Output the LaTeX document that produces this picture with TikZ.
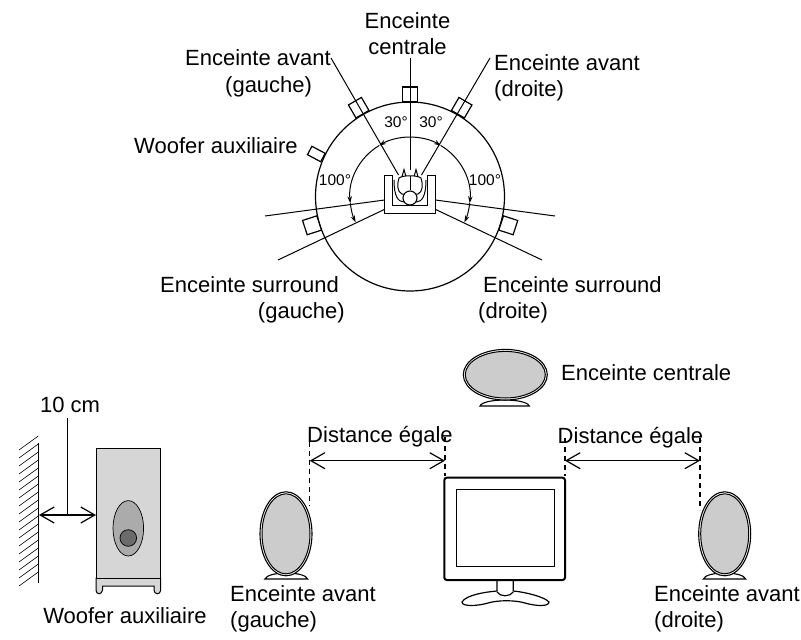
\documentclass[tikz,border=0pt]{standalone}
\usepackage{fontspec}
\setmainfont{Liberation Sans}
\usetikzlibrary{arrows.meta,shapes.geometric}
\tikzset{
    lbl/.style={inner sep=0pt, font=\fontsize{22}{26.5}\selectfont},
    deg/.style={inner sep=0pt, font=\fontsize{15.5}{18}\selectfont},
    box/.style={draw, line width=1.2pt, fill=white, minimum width=15pt, minimum height=15pt, inner sep=0pt},
    ray/.style={line width=1pt},
    sweep/.style={line width=1pt, -{Stealth[length=7pt,width=4.5pt]}},
    span/.style={line width=1.2pt, {Straight Barb[length=14pt,width=16pt]}-{Straight Barb[length=14pt,width=16pt]}},
    guide/.style={line width=1.3pt, dash pattern=on 5pt off 4pt},
    shell/.style={draw, line width=1.1pt, fill=white},
    cone/.style={draw, line width=1pt, fill=black!20}
}
\newcommand{\spkfoot}[3]{% x left, x right, y
    \draw[line width=1.1pt, fill=white] (#1,#3) .. controls (#1+3,#3-8) and (#2-3,#3-8) .. (#2,#3) -- cycle;
}
\begin{document}
\begin{tikzpicture}[x=1pt, y=-1pt]
    \useasboundingbox (0,0) rectangle (801,640);

    % Room circle
    \draw[line width=1.2pt] (410,196.5) circle (94.5);
    \coordinate (hub) at (410,197);

    % Rays
    \coordinate (flend) at (331,58);
    \coordinate (frend) at (490,58);
    \coordinate (cend) at (410,58);
    \coordinate (lup) at (265,216);
    \coordinate (llo) at (278,260);
    \coordinate (rup) at (555,216);
    \coordinate (rlo) at (542,260);
    \coordinate (flbase) at (398.5,175);
    \coordinate (frbase) at (421.5,175);
    \coordinate (cbase) at (410,170);
    \coordinate (seatlu) at (384.7,200);
    \coordinate (seatll) at (384.7,209.3);
    \coordinate (seatru) at (435.3,200);
    \coordinate (seatrl) at (435.3,209.3);

    % Speakers around the circle
    \node[box] (c) at (410,94.5) {};
    \node[box, rotate=30] (fl) at (358.7,107.7) {};
    \node[box, rotate=-30] (fr) at (461.7,107.7) {};
    \node[box, rotate=-28, minimum height=9.5pt] (sub) at (316.3,154) {};
    \node[box, rotate=18] (sl) at (312,225.3) {};
    \node[box, rotate=-18] (sr) at (508.3,225.3) {};

    \draw[ray] (flend) -- (flbase);
    \draw[ray] (frend) -- (frbase);
    \draw[ray] (cend) -- (cbase);
    \draw[ray] (lup) -- (seatlu);
    \draw[ray] (llo) -- (seatll);
    \draw[ray] (rup) -- (seatru);
    \draw[ray] (rlo) -- (seatrl);

    % Angle arcs
    \draw[sweep] (hub) ++(-90:60) arc[start angle=-90, end angle=-121, radius=60];
    \draw[sweep] (hub) ++(-90:60) arc[start angle=-90, end angle=-59, radius=60];
    \draw[sweep] (hub) ++(-121:60) arc[start angle=-121, end angle=-186, radius=60];
    \draw[sweep] (hub) ++(-59:60) arc[start angle=-59, end angle=6, radius=60];
    \draw[sweep] (hub) ++(-186:60) arc[start angle=-186, end angle=-205, radius=60];
    \draw[sweep] (hub) ++(6:60) arc[start angle=6, end angle=25, radius=60];

    % Seat
    \draw[line width=1.4pt, fill=white] (384.7,175.3) -- (384.7,213.7) -- (435.3,213.7) -- (435.3,175.3) -- (427.3,175.3) -- (427.3,205.3) -- (392.7,205.3) -- (392.7,175.3) -- cycle;
    \draw[line width=1pt] (394,180) .. controls (394,196) and (398,202) .. (404,202);
    \draw[line width=1pt] (426,180) .. controls (426,196) and (422,202) .. (416,202);
    \draw[line width=1pt, fill=white] (400,184) -- (404,169.5) -- (408,184) -- cycle;
    \draw[line width=1pt, fill=white] (412,184) -- (416,169.5) -- (420,184) -- cycle;
    \draw[line width=1pt, fill=white] (399,178) .. controls (403,175) and (417,175) .. (421,178) .. controls (423,184) and (423,192) .. (418,194) -- (402,194) .. controls (397,192) and (397,184) .. (399,178) -- cycle;
    \draw[line width=1pt] (410,176) -- (410,190);
    \node[circle, draw, line width=1.1pt, fill=white, minimum size=14pt, inner sep=0pt] (head) at (410,198) {};

    % Labels of the upper part
    \node[lbl, align=center] (lc) at (407.5,33.5) {Enceinte\\centrale};
    \node[lbl, align=left, anchor=west] (lfl) at (185,73.5) {Enceinte avant\\\hspace*{40pt}(gauche)};
    \node[lbl, align=left, anchor=west] (lfr) at (494,78) {Enceinte avant\\(droite)};
    \node[lbl, anchor=west] (lsub) at (134,146) {Woofer auxiliaire};
    \node[lbl, align=right, anchor=east] (lsl) at (345,300) {Enceinte surround\hspace*{6pt}\\(gauche)};
    \node[lbl, align=left, anchor=west] (lsr) at (478,300) {\hspace*{5pt}Enceinte surround\\(droite)};
    \node[deg] (a30l) at (396,122) {30°};
    \node[deg] (a30r) at (431,122) {30°};
    \node[deg] (a100l) at (335,180) {100°};
    \node[deg] (a100r) at (485,180) {100°};

    % Wall
    \draw[line width=1.2pt] (38.3,442.7) -- (38.3,582.7);
    \foreach \y in {450,458,...,586}
        \draw[line width=0.6pt] (19,\y) -- (38.3,\y-14);
    \coordinate (wall) at (39,515);
    \coordinate (boxface) at (96,515);

    % Subwoofer
    \draw[line width=1pt, fill=black!16] (96,578) -- (96,590) .. controls (96,595) and (102,595) .. (102.5,590) -- (102.5,586) -- (154,586) -- (154,590) .. controls (154,595) and (160.7,595) .. (160.7,590) -- (160.7,578) -- cycle;
    \node[draw, line width=1pt, fill=black!16, minimum width=64.7pt, minimum height=130pt, inner sep=0pt] (subbox) at (128.35,513) {};
    \node[ellipse, draw, line width=0.7pt, fill=black!33, minimum width=30.6pt, minimum height=55.4pt, inner sep=0pt] (subcone) at (128.3,528.3) {};
    \node[circle, draw, line width=0.7pt, fill=black!58, minimum size=16.6pt, inner sep=0pt] (subdrv) at (128.3,538) {};

    \draw[span] (wall) -- (boxface);
    \coordinate (gaptop) at (67.7,418);
    \coordinate (gapbot) at (67.7,515);
    \draw[line width=1.2pt] (gaptop) -- (gapbot);
    \node[lbl] (lgap) at (70,405) {10 cm};
    \node[lbl] (lsubb) at (125,616) {Woofer auxiliaire};

    % Centre speaker
    \spkfoot{480}{529.3}{406}
    \draw[shell] (505.3,374.7) ellipse (42 and 25.3);
    \draw[cone] (505.3,374.7) ellipse (40 and 23.3);
    \node[lbl, anchor=west] (lcc) at (561,373) {Enceinte centrale};

    % Front speakers
    \spkfoot{265}{307.7}{579}
    \draw[shell] (286,533.8) ellipse (26 and 42);
    \draw[cone] (286,533.8) ellipse (24 and 40);
    \spkfoot{703.3}{745.7}{579}
    \draw[shell] (724.7,533.8) ellipse (26 and 42);
    \draw[cone] (724.7,533.8) ellipse (24 and 40);
    \node[lbl, align=left, anchor=west] (lal) at (230,609) {Enceinte avant\\(gauche)};
    \node[lbl, align=left, anchor=west] (lar) at (654,609) {Enceinte avant\\(droite)};

    % Monitor
    \draw[line width=1.2pt, fill=white] (462,602) .. controls (466,595) and (485,592) .. (497,591) -- (497,580) -- (513.3,580) -- (513.3,591) .. controls (525,592) and (545,597) .. (549,602) .. controls (549,607) and (535,606) .. (525,603) .. controls (515,600) and (498,600) .. (488,603) .. controls (478,606) and (462,607) .. (462,602) -- cycle;
    \draw[line width=1.2pt] (497,592) .. controls (500,597) and (510,597) .. (513.3,592);
    \draw[line width=2pt, fill=white, rounded corners=2.5pt] (444.3,477.7) rectangle (565,580);
    \draw[line width=1pt] (456.7,489.3) rectangle (554.7,566.7);

    % Distance marks
    \coordinate (d1a) at (309.7,441.7);
    \coordinate (d1b) at (309.7,505);
    \coordinate (d2a) at (445,437);
    \coordinate (d2b) at (445,476);
    \coordinate (d3a) at (565,438);
    \coordinate (d3b) at (565,476);
    \coordinate (d4a) at (700,438);
    \coordinate (d4b) at (700,510);
    \draw[guide] (d1a) -- (d1b);
    \draw[guide] (d2a) -- (d2b);
    \draw[guide] (d3a) -- (d3b);
    \draw[guide] (d4a) -- (d4b);
    \coordinate (m1a) at (309.7,460.7);
    \coordinate (m1b) at (445,460.7);
    \coordinate (m2a) at (565,460.7);
    \coordinate (m2b) at (700,460.7);
    \draw[span] (m1a) -- (m1b);
    \draw[span] (m2a) -- (m2b);
    \node[lbl] (ld1) at (380,437) {Distance égale};
    \node[lbl] (ld2) at (630.5,438) {Distance égale};
\end{tikzpicture}
\end{document}
